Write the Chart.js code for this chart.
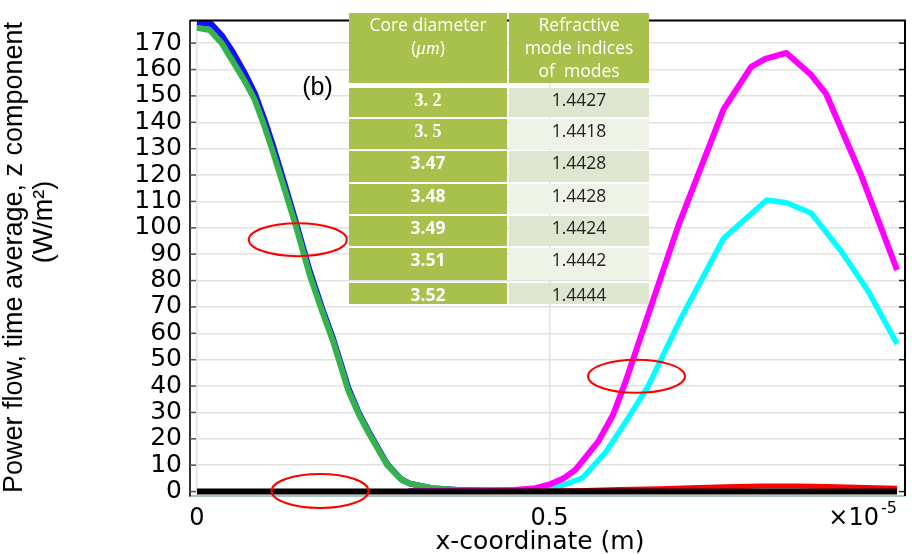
<!DOCTYPE html>
<html><head><meta charset="utf-8">
<script src="https://cdn.jsdelivr.net/npm/chart.js@4.4.1/dist/chart.umd.min.js"></script>
<style>
html,body{margin:0;padding:0;background:#fff;width:912px;height:554px;overflow:hidden}
#wrap{position:relative;width:912px;height:554px}
#c{position:absolute;left:0;top:0}
.cell{position:absolute;box-sizing:border-box;text-align:center;font-family:"Open Sans",sans-serif;white-space:nowrap}
.hd{background:#a8c14c;color:#fff;font-size:17.5px;line-height:23px}
.lc{background:#a8c14c;color:#fff;font-weight:bold;font-size:17.5px;line-height:22px}
.rc{color:#222;font-size:17.5px;line-height:22px}
</style></head>
<body><div id="wrap"><canvas id="c" width="912" height="554"></canvas><div id="tbl"></div></div>
<script>
// ---- data ----
const blueX = [0, 0.02, 0.035, 0.05, 0.067, 0.082, 0.095, 0.108, 0.125, 0.141, 0.16, 0.178, 0.193, 0.215, 0.23, 0.244, 0.27, 0.29, 0.302, 0.333, 0.37, 0.42, 0.5];
const blueY = [177.6, 177.3, 173, 167, 159, 151, 141.5, 131, 116, 101.5, 83.5, 69, 58, 39, 29.5, 22.5, 10.3, 4.6, 3, 1.3, 0.6, 0.3, 0.3];
const greenX = [0, 0.018, 0.035, 0.051, 0.067, 0.082, 0.095, 0.108, 0.125, 0.141, 0.16, 0.178, 0.193, 0.215, 0.23, 0.244, 0.27, 0.29, 0.302, 0.333, 0.37, 0.42, 0.5];
const greenY = [175.8, 175.0, 170, 163, 156, 148.5, 139, 128.5, 114, 100, 82, 68, 57, 38, 29, 22, 10, 4.5, 3, 1.3, 0.6, 0.3, 0.3];
const magentaX = [0.3, 0.4, 0.45, 0.48, 0.5, 0.52, 0.537, 0.569, 0.59, 0.607, 0.645, 0.683, 0.715, 0.747, 0.786, 0.806, 0.836, 0.871, 0.892, 0.942, 0.993];
const magentaY = [0.2, 0.3, 0.6, 1.3, 2.7, 5, 8.3, 18.9, 29, 41, 71, 101, 123, 145, 161, 164, 166.3, 158, 151, 120, 84];
const cyanX = [0.4, 0.45, 0.5, 0.52, 0.547, 0.58, 0.611, 0.64, 0.687, 0.747, 0.808, 0.836, 0.871, 0.914, 0.952, 0.993];
const cyanY = [0.1, 0.2, 1, 2.5, 5.2, 15, 27.6, 40, 66, 96, 110.5, 109.5, 105.6, 91, 76, 56];
const redX = [0, 0.3, 0.45, 0.5, 0.55, 0.6, 0.657, 0.7, 0.75, 0.8, 0.85, 0.894, 0.95, 0.993];
const redY = [0, 0, 0.1, 0.2, 0.45, 0.75, 1.1, 1.45, 1.85, 2.1, 2.1, 1.9, 1.55, 1.25];
const blackX = [0, 0.25, 0.5, 0.75, 0.993];
const blackY = [0, 0, 0, 0, 0];

const yTicks = [0,10,20,30,40,50,60,70,80,90,100,110,120,130,140,150,160,170];
const xTicks = [0, 0.5, 1];
const xTickLabels = ['0', '0.5', ''];
const yTitle = ['Power flow, time average, z component', '(W/m\u00B2)'];
const xTitle = 'x-coordinate (m)';
const xExp = ['\u00D710', '-5'];
const panelLabel = '(b)';

const tableHead = ['Core diameter<br>(<i style="font-family:\'Liberation Serif\',serif;font-size:19px">\u03BCm</i>)', 'Refractive<br>mode indices<br>of&nbsp; modes'];
const coreDiam = ['3. 2', '3. 5', '3.47', '3.48', '3.49', '3.51', '3.52'];
const modeIdx = ['1.4427', '1.4418', '1.4428', '1.4428', '1.4424', '1.4442', '1.4444'];

// ellipse annotations (data-space centres)
const ellX = [0.143, 0.6234, 0.1745];
const ellY = [95.5, 43.7, 0.2];

// ---- table (HTML overlay) ----
(function(){
  const t = document.getElementById('tbl');
  const L = 349, LW = 158, R = 509, RW = 140;
  const rowTop = [88, 119, 151, 184, 216, 248, 283];
  const rowH = [29, 30, 31, 30, 30, 32, 21];
  function cell(cls, x, y, w, h, html, bg){
    const d = document.createElement('div');
    d.className = 'cell ' + cls;
    d.style.left = x + 'px'; d.style.top = y + 'px'; d.style.width = w + 'px'; d.style.height = h + 'px';
    if (bg) d.style.background = bg;
    d.innerHTML = html; t.appendChild(d);
  }
  cell('hd', L, 13, LW, 70, tableHead[0]);
  cell('hd', R, 13, RW, 70, tableHead[1]);
  for (let i = 0; i < coreDiam.length; i++) {
    const serif = i < 2 ? ' style="font-family:\'Liberation Serif\',serif;font-size:18px"' : '';
    cell('lc', L, rowTop[i], LW, rowH[i], '<span' + serif + '>' + coreDiam[i] + '</span>');
    cell('rc', R, rowTop[i], RW, rowH[i], modeIdx[i], i % 2 === 0 ? '#dfe6cf' : '#eef2e7');
  }
})();

const pts = (xs, ys) => xs.map((x, i) => ({x: x, y: ys[i]}));

const overlay = {
  id: 'overlay',
  afterDraw(chart) {
    const c = chart.ctx, a = chart.chartArea, xs = chart.scales.x, ys = chart.scales.y;
    c.save();
    // frame top/right
    c.strokeStyle = '#000'; c.lineWidth = 2;
    c.beginPath(); c.moveTo(a.left, a.top); c.lineTo(a.right, a.top); c.lineTo(a.right, a.bottom); c.stroke();
    // inward ticks
    c.lineWidth = 1.5;
    yTicks.forEach(v => {
      const y = ys.getPixelForValue(v);
      c.strokeStyle = '#222';
      c.beginPath(); c.moveTo(a.right - 6, y); c.lineTo(a.right, y); c.stroke();
      c.strokeStyle = '#555';
      c.beginPath(); c.moveTo(a.left, y); c.lineTo(a.left + 6, y); c.stroke();
    });
    // ellipses
    c.strokeStyle = '#ff0000'; c.lineWidth = 2;
    const rx = [49, 48.5, 48.5], ry = [16.5, 16.5, 17];
    ellX.forEach((v, i) => {
      c.beginPath();
      c.ellipse(xs.getPixelForValue(v), ys.getPixelForValue(ellY[i]), rx[i], ry[i], 0, 0, Math.PI * 2);
      c.stroke();
    });
    // texts
    c.fillStyle = '#000';
    c.font = '27px "Liberation Sans", Arial, sans-serif';
    c.textAlign = 'center'; c.textBaseline = 'alphabetic';
    c.save(); c.translate(21.5, 257.5); c.rotate(-Math.PI / 2); c.fillText(yTitle[0], 0, 0); c.restore();
    c.save(); c.translate(52, 222); c.rotate(-Math.PI / 2); c.fillText(yTitle[1], 0, 0); c.restore();
    c.font = '25px "DejaVu Sans", sans-serif';
    c.fillText(xTitle, 540, 549);
    c.textAlign = 'right';
    c.font = '24px "DejaVu Sans", sans-serif';
    c.fillText(xExp[0], 879, 525);
    c.textAlign = 'left';
    c.font = '16px "DejaVu Sans", sans-serif';
    c.fillText(xExp[1], 881, 513);
    c.textAlign = 'center';
    c.font = '25px "Liberation Sans", Arial, sans-serif';
    c.fillText(panelLabel, 317.5, 95);
    c.restore();
  }
};

const ds = (label, xs, ys, color, w, order) => ({
  label, data: pts(xs, ys), borderColor: color, backgroundColor: color, borderWidth: w,
  pointRadius: 0, fill: false, tension: 0, order: order,
  borderCapStyle: 'butt', borderJoinStyle: 'round'
});

new Chart(document.getElementById('c'), {
  type: 'line',
  data: {
    datasets: [
      ds('black', blackX, blackY, '#000000', 6, 0),
      ds('red', redX, redY, '#ff0000', 5, 1),
      ds('magenta', magentaX, magentaY, '#ff00ff', 6, 2),
      ds('cyan', cyanX, cyanY, '#00ffff', 5.5, 3),
      ds('green', greenX, greenY, '#33b34a', 6, 4),
      ds('blue', blueX, blueY, '#1010ff', 6, 5)
    ]
  },
  options: {
    responsive: false, animation: false, parsing: true,
    layout: { padding: { left: 0, right: 7, top: 13, bottom: 0 } },
    plugins: { legend: { display: false }, tooltip: { enabled: false }, title: { display: false } },
    scales: {
      x: {
        type: 'linear', min: -0.00993, max: 1.00426,
        afterBuildTicks: s => { s.ticks = xTicks.map(v => ({ value: v })); },
        afterFit: s => { s.height = 58; },
        grid: { drawTicks: false, lineWidth: 1.5, color: ctx => (ctx.tick && ctx.tick.value === 1) ? 'rgba(0,0,0,0)' : '#e2e2e2' },
        border: { display: true, color: '#a9c6c6', width: 2 },
        ticks: { padding: 8, color: '#000', autoSkip: false, font: { family: 'DejaVu Sans', size: 24 }, maxRotation: 0,
          callback: (v, i) => xTickLabels[i] }
      },
      y: {
        type: 'linear', min: -1.68, max: 178.58,
        afterBuildTicks: s => { s.ticks = yTicks.map(v => ({ value: v })); },
        afterFit: s => { s.width = 190; },
        grid: { drawTicks: false, lineWidth: 1.5, color: '#e2e2e2' },
        border: { display: true, color: '#333', width: 2 },
        ticks: { padding: 8, color: '#000', autoSkip: false, font: { family: 'DejaVu Sans', size: 25, lineHeight: 1 }, callback: v => String(v) }
      }
    }
  },
  plugins: [overlay]
});
</script></body></html>
